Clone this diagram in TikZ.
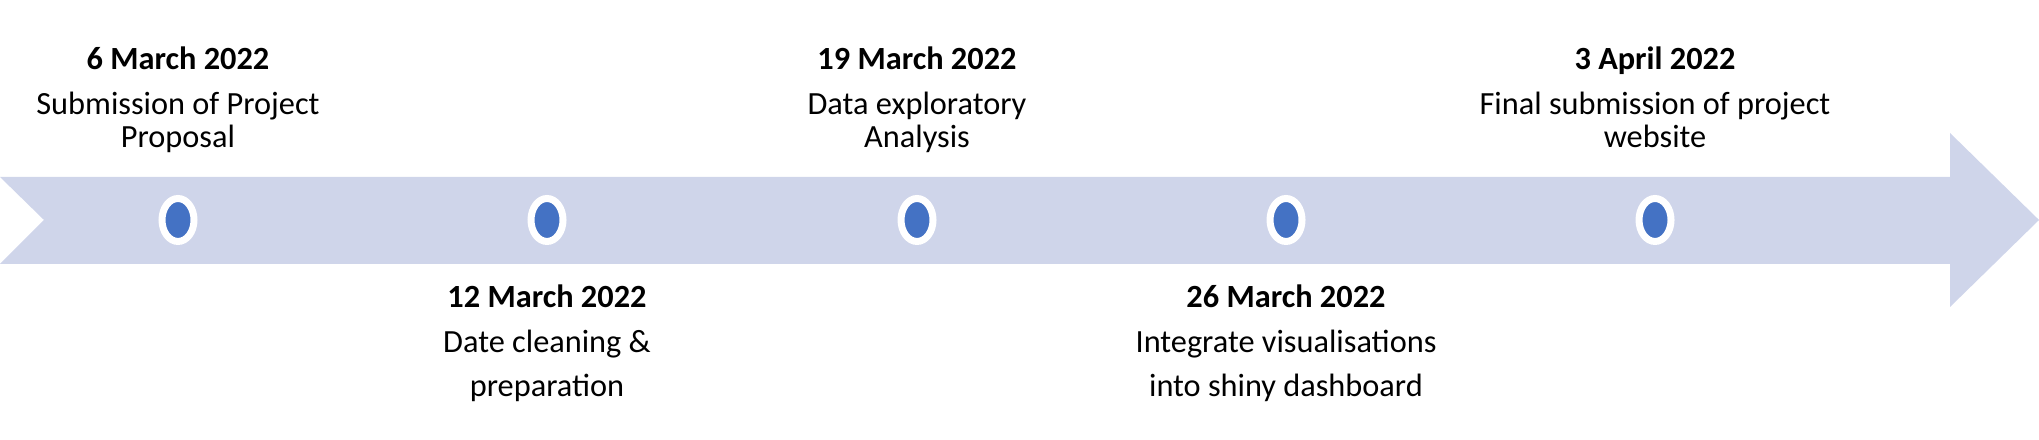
\documentclass[tikz,border=0pt]{standalone}
\usepackage{fontspec}
\setmainfont{Carlito}
\usetikzlibrary{shapes.geometric,positioning}
\definecolor{bandblue}{HTML}{CFD5EA}
\definecolor{dotblue}{HTML}{4472C4}

\begin{document}
\begin{tikzpicture}[
    date/.style={font=\fontsize{9.2}{12.5}\selectfont\bfseries, inner sep=0pt, anchor=base},
    task/.style={font=\fontsize{9.2}{9.4}\selectfont, align=center, inner sep=0pt, anchor=base},
    tasklow/.style={task, font=\fontsize{9.2}{12.6}\selectfont},
    dot/.style={ellipse, draw=white, line width=0.07cm, fill=dotblue, minimum width=0.32cm, minimum height=0.43cm, inner sep=0pt}
]
\useasboundingbox (0,0) rectangle (20.39,4.40);

% Timeline band with notch and arrow head
\fill[bandblue] (0,2.63) -- (19.50,2.63) -- (19.50,3.07) -- (20.39,2.20) -- (19.50,1.33) -- (19.50,1.76) -- (0,1.76) -- (0.44,2.20) -- cycle;

% Milestones
\node[dot] (m1) at (1.78,2.20) {};
\node[dot] (m2) at (5.47,2.20) {};
\node[dot] (m3) at (9.17,2.20) {};
\node[dot] (m4) at (12.86,2.20) {};
\node[dot] (m5) at (16.55,2.20) {};

% Labels above (base = last line)
\node[date] (d1) at (m1 |- 0,3.70) {6 March 2022};
\node[task] (t1) at (m1 |- 0,2.92) {Submission of Project\\Proposal};
\node[date] (d3) at (m3 |- 0,3.70) {19 March 2022};
\node[task] (t3) at (m3 |- 0,2.92) {Data exploratory\\Analysis};
\node[date] (d5) at (m5 |- 0,3.70) {3 April 2022};
\node[task] (t5) at (m5 |- 0,2.92) {Final submission of project\\website};

% Labels below
\node[date] (d2) at (m2 |- 0,1.32) {12 March 2022};
\node[tasklow] (t2) at (m2 |- 0,0.43) {Date cleaning \&\\preparation};
\node[date] (d4) at (m4 |- 0,1.32) {26 March 2022};
\node[tasklow] (t4) at (m4 |- 0,0.43) {Integrate visualisations\\into shiny dashboard};

\end{tikzpicture}
\end{document}
